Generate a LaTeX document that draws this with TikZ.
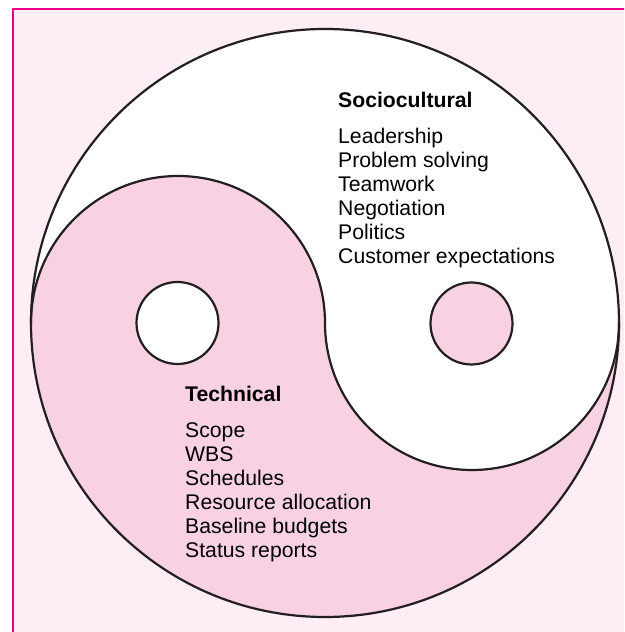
\documentclass[tikz,border=0pt]{standalone}
\usepackage{fontspec}
\setmainfont{Liberation Sans}
\definecolor{framepink}{HTML}{EC008C}
\definecolor{backpink}{HTML}{FDEDF4}
\definecolor{yinpink}{HTML}{F8D2E3}
\definecolor{inkgray}{HTML}{231F20}
\newcommand\yinfont{\fontsize{21.2pt}{24pt}\selectfont}
\tikzset{
	yinline/.style={draw=inkgray, line width=2.2pt},
}
\begin{document}
\begin{tikzpicture}[x=1pt,y=1pt]
	\useasboundingbox (0,0) rectangle (624,632);
	\clip (0,0) rectangle (624,632);
	\draw[framepink, line width=2.5pt, fill=backpink] (13,-20) rectangle (660,623);
	\fill[white] (325,309) circle (294);
	\fill[yinpink] (31,309) arc (180:0:147) arc (180:360:147) arc (0:-180:294) -- cycle;
	\draw[yinline] (325,309) circle (294);
	\draw[yinline] (31,309) arc (180:0:147) arc (180:360:147);
	\draw[yinline, fill=white] (177.5,309) circle (41);
	\draw[yinline, fill=yinpink] (471.5,308.5) circle (41);
	\pgfset{inner sep=0pt}
	{
	\color{inkgray}
	\pgftransformshift{\pgfpoint{338pt}{524pt}}
	\pgfnode{rectangle}{base west}{\yinfont\bfseries Sociocultural}{socio}{\pgfusepath{discard}}
	}
	{
	\color{inkgray}
	\pgftransformshift{\pgfpoint{338pt}{488pt}}
	\pgfnode{rectangle}{base west}
	{\yinfont\begin{tabular}[t]{@{}l@{}}Leadership\\ Problem solving\\ Teamwork\\ Negotiation\\ Politics\\ Customer expectations\end{tabular}}{sociolist}{\pgfusepath{discard}}
	}
	{
	\color{inkgray}
	\pgftransformshift{\pgfpoint{185pt}{230pt}}
	\pgfnode{rectangle}{base west}{\yinfont\bfseries Technical}{tech}{\pgfusepath{discard}}
	}
	{
	\color{inkgray}
	\pgftransformshift{\pgfpoint{185pt}{194pt}}
	\pgfnode{rectangle}{base west}
	{\yinfont\begin{tabular}[t]{@{}l@{}}Scope\\ WBS\\ Schedules\\ Resource allocation\\ Baseline budgets\\ Status reports\end{tabular}}{techlist}{\pgfusepath{discard}}
	}
\end{tikzpicture}
\end{document}
